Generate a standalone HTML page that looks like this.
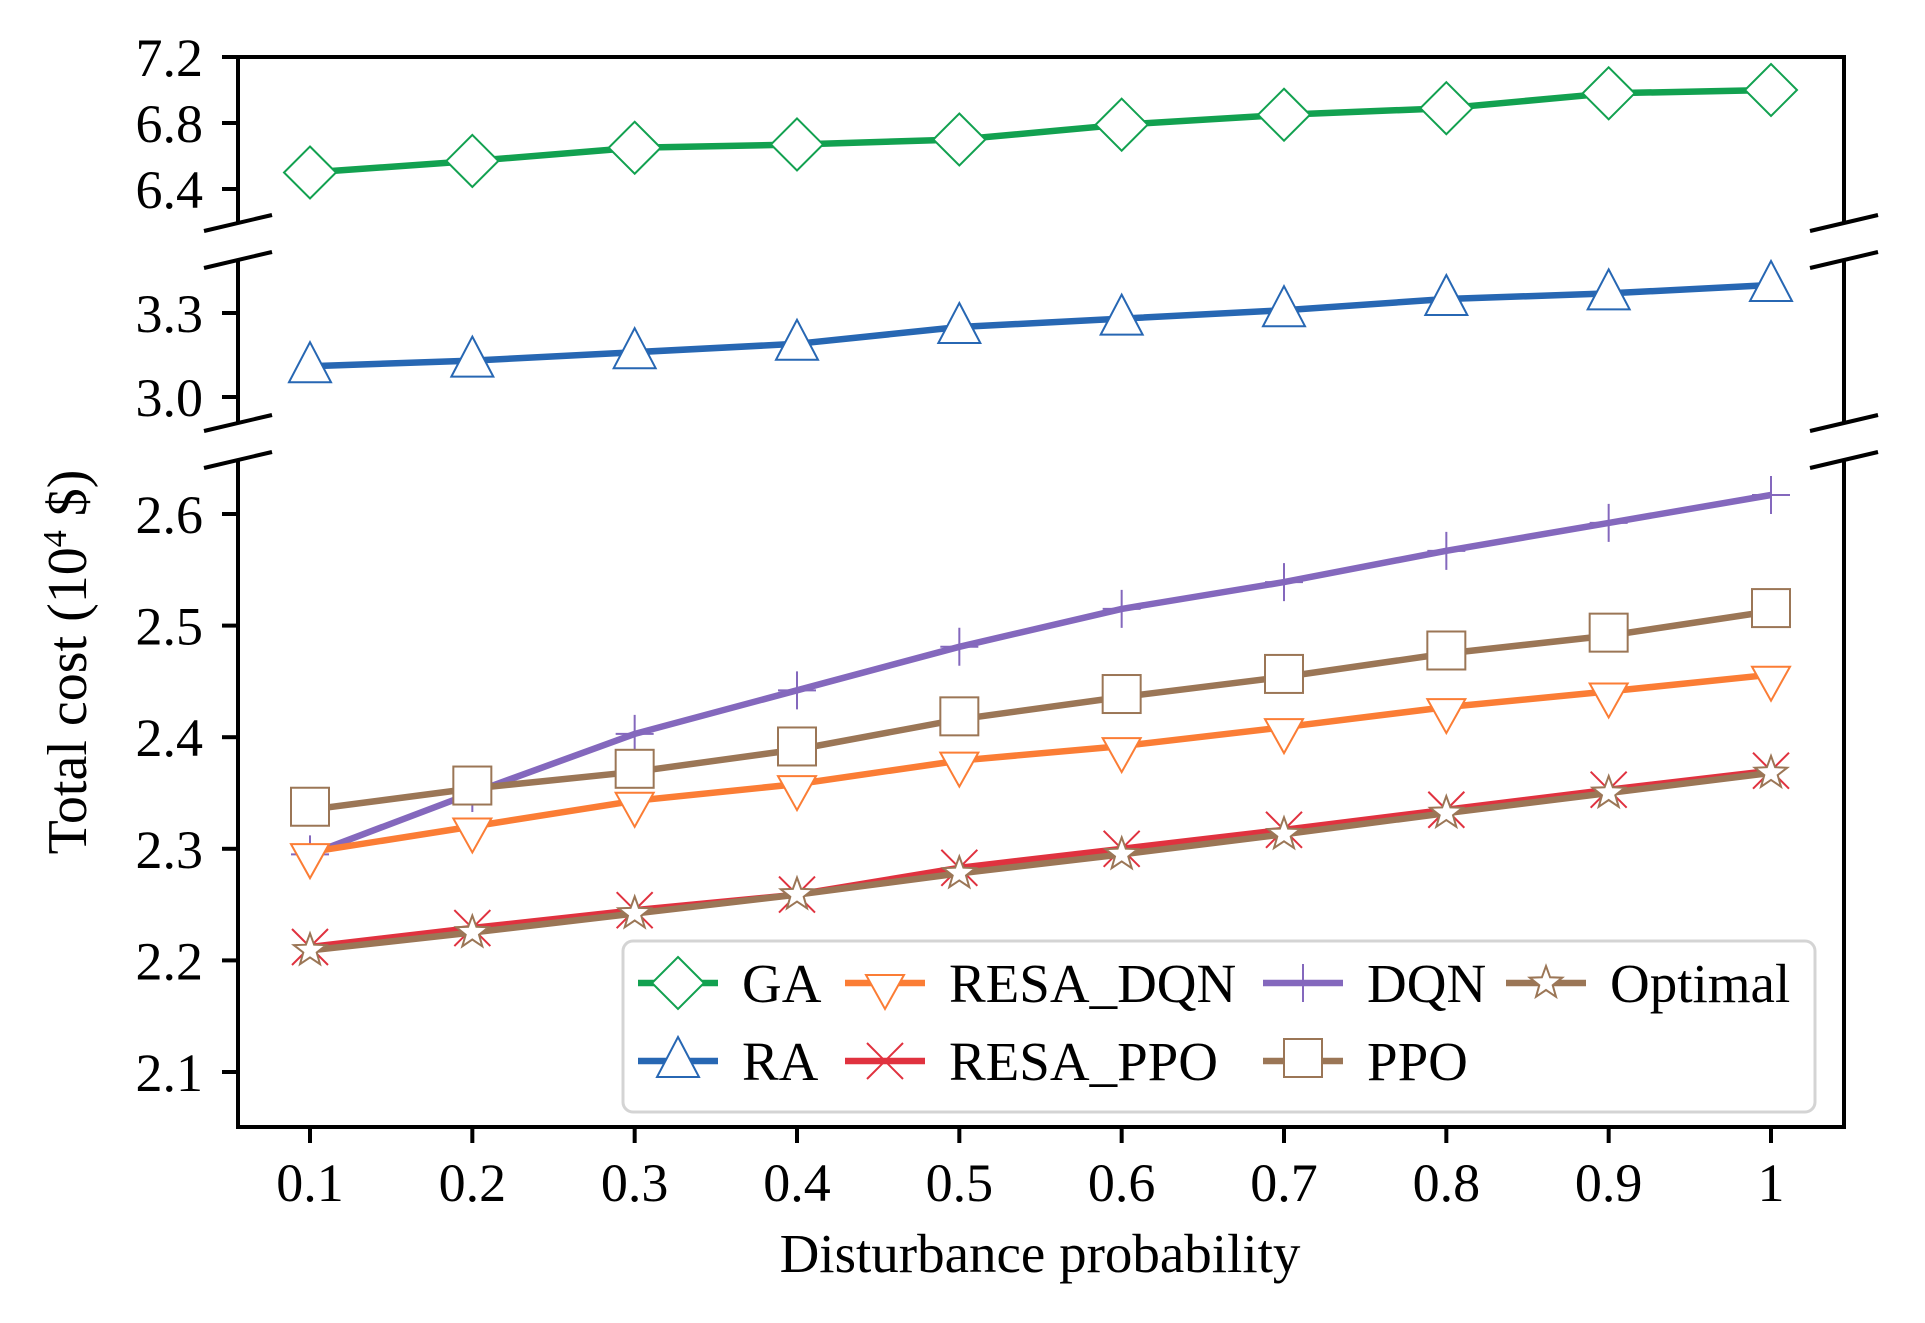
<!DOCTYPE html>
<html><head><meta charset="utf-8"><style>
html,body{margin:0;padding:0;background:#fff;}
svg{display:block;}
text{font-family:"Liberation Serif",serif;fill:#000;}
</style></head><body>
<svg id="chart" width="1925" height="1323" viewBox="0 0 1925 1323" xmlns="http://www.w3.org/2000/svg">
<rect width="1925" height="1323" fill="#fff"/>
<g id="axes"></g>
<g id="series"></g>
<g id="legend"></g>
<text transform="translate(86,662) rotate(-90)" text-anchor="middle" font-size="56">Total cost (10<tspan font-size="34" dy="-20">4</tspan><tspan dy="20"> $)</tspan></text>
<text x="1040" y="1272" text-anchor="middle" font-size="55">Disturbance probability</text>
</svg>
<script>
const categories = [0.1,0.2,0.3,0.4,0.5,0.6,0.7,0.8,0.9,1];
const xTickLabels = ["0.1","0.2","0.3","0.4","0.5","0.6","0.7","0.8","0.9","1"];
const gaValues = [6.50,6.57,6.65,6.67,6.70,6.79,6.85,6.89,6.98,7.00];
const raValues = [3.11,3.13,3.16,3.19,3.25,3.28,3.31,3.35,3.37,3.40];
const dqnValues = [2.295,2.350,2.403,2.442,2.481,2.515,2.539,2.567,2.592,2.617];
const ppoValues = [2.335,2.354,2.369,2.389,2.416,2.436,2.454,2.475,2.491,2.513];
const resaDqnValues = [2.297,2.320,2.343,2.358,2.379,2.392,2.409,2.427,2.441,2.456];
const resaPpoValues = [2.212,2.229,2.245,2.259,2.283,2.300,2.317,2.335,2.353,2.370];
const optimalValues = [2.209,2.225,2.242,2.259,2.278,2.295,2.313,2.332,2.350,2.368];
const topTicks = ["6.4","6.8","7.2"];
const midTicks = ["3.0","3.3"];
const lowTicks = ["2.1","2.2","2.3","2.4","2.5","2.6"];

const NS="http://www.w3.org/2000/svg";
const L=238,R=1844;
function mk(tag,attrs,parent){const e=document.createElementNS(NS,tag);for(const k in attrs)e.setAttribute(k,attrs[k]);parent.appendChild(e);return e;}
function xPos(v){return 310+(v-0.1)/0.9*(1771-310);}
function yPos(v){
  if(v>=5) return 189-(v-6.4)*(66/0.4);
  if(v>=2.8) return 397-(v-3.0)*(84/0.3);
  return 1072-(v-2.1)*(558/0.5);
}
const axes=document.getElementById('axes');
const segs=[[57,223],[260,423],[460,1127]];
segs.forEach(s=>{
  let l=mk('line',{x1:L,y1:s[0],x2:L,y2:s[1],stroke:'#000','stroke-width':4},axes);
  
  
  let r=mk('line',{x1:R,y1:s[0],x2:R,y2:s[1],stroke:'#000','stroke-width':4},axes);
  
  
});
mk('line',{x1:L-2,y1:57,x2:R+2,y2:57,stroke:'#000','stroke-width':4},axes);
mk('line',{x1:L-2,y1:1127,x2:R+2,y2:1127,stroke:'#000','stroke-width':4},axes);
[223,260,423,460].forEach(y=>{
  [L,R].forEach(x=>{
    const b=mk('line',{x1:x-34,y1:y+8,x2:x+34,y2:y-8,stroke:'#000','stroke-width':4},axes);
    
    
  });
});
function yTick(lbl){
  const y=yPos(parseFloat(lbl));
  mk('line',{x1:L-16,y1:y,x2:L,y2:y,stroke:'#000','stroke-width':4},axes);
  const t=mk('text',{x:203,y:y+19,'text-anchor':'end','font-size':54},axes);
  t.textContent=lbl;
  
  
}
topTicks.forEach(yTick);midTicks.forEach(yTick);lowTicks.forEach(yTick);
categories.forEach((c,i)=>{
  const x=xPos(c);
  mk('line',{x1:x,y1:1127,x2:x,y2:1143,stroke:'#000','stroke-width':4},axes);
  const t=mk('text',{x:x,y:1201,'text-anchor':'middle','font-size':54},axes);
  t.textContent=xTickLabels[i];
  
  
});

function marker(type,x,y,color,parent){
  let e;
  if(type==='diamond'){e=mk('polygon',{points:`${x},${y-26} ${x+26},${y} ${x},${y+26} ${x-26},${y}`,fill:'#fff',stroke:color,'stroke-width':2},parent);}
  else if(type==='tri'){e=mk('polygon',{points:`${x},${y-24} ${x+21},${y+16} ${x-21},${y+16}`,fill:'#fff',stroke:color,'stroke-width':2},parent);}
  else if(type==='tridown'){e=mk('polygon',{points:`${x-19},${y-8} ${x+19},${y-8} ${x},${y+26}`,fill:'#fff',stroke:color,'stroke-width':2},parent);}
  else if(type==='square'){e=mk('rect',{x:x-19,y:y-22,width:38,height:38,fill:'#fff',stroke:color,'stroke-width':2},parent);}
  else if(type==='plus'){e=mk('path',{d:`M${x-19},${y}H${x+19}M${x},${y-19}V${y+19}`,fill:'none',stroke:color,'stroke-width':2},parent);}
  else if(type==='x'){e=mk('path',{d:`M${x-18},${y-18}L${x+18},${y+18}M${x-18},${y+18}L${x+18},${y-18}`,fill:'none',stroke:color,'stroke-width':2},parent);}
  else if(type==='star'){let p=[];for(let k=0;k<10;k++){const r=k%2?7:17;const a=-Math.PI/2+k*Math.PI/5;p.push((x+r*Math.cos(a)).toFixed(1)+','+(y+r*Math.sin(a)).toFixed(1));}
    e=mk('polygon',{points:p.join(' '),fill:'#fff',stroke:color,'stroke-width':2},parent);}
  return e;
}
const seriesDefs=[
  {name:'ga',vals:gaValues,color:'#12a150',m:'diamond'},
  {name:'ra',vals:raValues,color:'#2767b3',m:'tri'},
  {name:'dqn',vals:dqnValues,color:'#8468bd',m:'plus'},
  {name:'ppo',vals:ppoValues,color:'#9b7656',m:'square'},
  {name:'resa-dqn',vals:resaDqnValues,color:'#fb7d35',m:'tridown'},
  {name:'resa-ppo',vals:resaPpoValues,color:'#e0323f',m:'x'},
  {name:'optimal',vals:optimalValues,color:'#9b7656',m:'star'}
];
const sg=document.getElementById('series');
seriesDefs.forEach(s=>{
  const g=mk('g',{},sg);
  
  
  const pts=s.vals.map((v,i)=>xPos(categories[i]).toFixed(1)+','+yPos(v).toFixed(1)).join(' ');
  const pl=mk('polyline',{points:pts,fill:'none',stroke:s.color,'stroke-width':6.5,'stroke-linejoin':'round'},g);
  
  
  s.vals.forEach((v,i)=>{
    const m=marker(s.m,xPos(categories[i]),yPos(v),s.color,g);
    
    
  });
});
const lg=document.getElementById('legend');
const box=mk('rect',{x:623,y:941,width:1192,height:171,rx:10,fill:'#fff','fill-opacity':0.85,stroke:'#d4d4d4','stroke-width':3},lg);


const legItems=[
  ['ga','GA',678,983,'diamond','#12a150'],
  ['resa-dqn','RESA_DQN',885,983,'tridown','#fb7d35'],
  ['dqn','DQN',1303,983,'plus','#8468bd'],
  ['optimal','Optimal',1546,983,'star','#9b7656'],
  ['ra','RA',678,1061,'tri','#2767b3'],
  ['resa-ppo','RESA_PPO',885,1061,'x','#e0323f'],
  ['ppo','PPO',1303,1061,'square','#9b7656']
];
legItems.forEach(it=>{
  const g=mk('g',{},lg);
  
  
  mk('line',{x1:it[2]-40,y1:it[3],x2:it[2]+40,y2:it[3],stroke:it[5],'stroke-width':6.5},g);
  marker(it[4],it[2],it[3],it[5],g);
  const t=mk('text',{x:it[2]+64,y:it[3]+19,'font-size':55},g);
  t.textContent=it[1];
  
  
});
</script>
</body></html>
